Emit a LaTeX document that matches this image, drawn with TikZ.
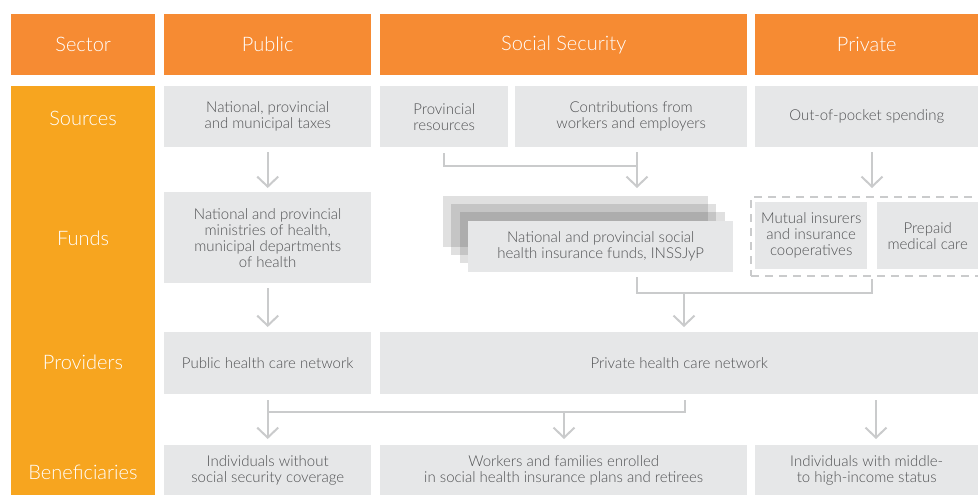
\documentclass[tikz,border=0pt]{standalone}
\usepackage{fontspec}
\IfFontExistsTF{Lato Light}{\setmainfont{Lato Light}}{\setmainfont{Lato}}
\usetikzlibrary{arrows.meta,positioning,calc}
\definecolor{headorange}{HTML}{F68B33}
\definecolor{sideamber}{HTML}{F7A51F}
\definecolor{cellgray}{HTML}{E6E7E8}
\definecolor{textgray}{HTML}{505153}
\definecolor{linegray}{HTML}{CACBCC}

\begin{document}
\begin{tikzpicture}[
    x=1pt,y=-1pt,
    head/.style={fill=headorange,text=white,font=\fontsize{20}{22}\selectfont,anchor=north west,inner sep=0pt,minimum height=61pt},
    side/.style={text=white,font=\fontsize{20}{22}\selectfont},
    cell/.style={fill=cellgray,text=textgray,font=\fontsize{15}{16}\selectfont,align=center,anchor=north west,inner sep=0pt},
    layer/.style={fill=black,fill opacity=0.12,anchor=north west,inner sep=0pt,minimum width=265pt,minimum height=51pt},
    link/.style={draw=linegray,line width=2pt},
    arrow/.style={link,-{Straight Barb[length=10pt,width=21pt]}}
]
\useasboundingbox (0,0) rectangle (978,495);

% Header row
\node[head,minimum width=144pt] (sector) at (11,14) {Sector};
\node[head,minimum width=207pt] (public) at (164,14) {Public};
\node[head,minimum width=367pt] (social) at (380,14) {Social Security};
\node[head,minimum width=223pt] (private) at (755,14) {Private};

% Left column
\node[fill=sideamber,anchor=north west,inner sep=0pt,minimum width=144pt,minimum height=409pt] (sidecol) at (11,86) {};
\node[side] (sources) at (83,118) {Sources};
\node[side] (funds) at (83,238) {Funds};
\node[side] (providers) at (83,362) {Providers};
\node[side] (beneficiaries) at (83,472) {Beneficiaries};

% Sources
\node[cell,minimum width=207pt,minimum height=61pt] (pubsrc) at (164,86) {National, provincial\\and municipal taxes};
\node[cell,minimum width=128pt,minimum height=61pt] (provres) at (380,86) {Provincial\\resources};
\node[cell,minimum width=232pt,minimum height=61pt] (contrib) at (515,86) {Contributions from\\workers and employers};
\node[cell,minimum width=223pt,minimum height=61pt] (privsrc) at (755,86) {Out-of-pocket spending};

% Funds
\node[cell,minimum width=207pt,minimum height=91pt] (pubfund) at (164,192) {National and provincial\\ministries of health,\\municipal departments\\of health};
\node[layer] (ssback) at (443,196) {};
\node[layer] (ssmid) at (451,204) {};
\node[layer] (ssnear) at (460,212) {};
\node[cell,minimum width=265pt,minimum height=51pt] (ssfund) at (468,221) {National and provincial social\\health insurance funds, INSSJyP};
\node[draw=linegray,line width=2pt,dash pattern=on 8pt off 6pt,anchor=north west,inner sep=0pt,minimum width=232pt,minimum height=79pt] (privfund) at (750,196) {};
\node[cell,minimum width=112pt,minimum height=67pt] (mutual) at (755,202) {Mutual insurers\\and insurance\\cooperatives};
\node[cell,minimum width=101pt,minimum height=67pt] (prepaid) at (877,202) {Prepaid\\medical care};

% Providers
\node[cell,minimum width=207pt,minimum height=62pt] (pubprov) at (164,332) {Public health care network};
\node[cell,minimum width=598pt,minimum height=62pt] (privprov) at (380,332) {Private health care network};

% Beneficiaries
\node[cell,minimum width=207pt,minimum height=50pt] (pubben) at (164,445) {Individuals without\\social security coverage};
\node[cell,minimum width=367pt,minimum height=50pt] (ssben) at (380,445) {Workers and families enrolled\\in social health insurance plans and retirees};
\node[cell,minimum width=223pt,minimum height=50pt] (privben) at (755,445) {Individuals with middle-\\to high-income status};

% Sources to funds
\coordinate (ssjoin) at (637,166);
\coordinate (privx) at (872,0);
\draw[arrow,shorten <=5pt,shorten >=4pt] (pubsrc) -- (pubfund);
\draw[link] (provres.south) ++(0,6) |- (ssjoin);
\draw[arrow,shorten <=5pt,shorten >=8pt] (contrib.south -| ssjoin) -- (ssjoin |- ssback.north);
\draw[arrow,shorten <=5pt,shorten >=8pt] (privsrc.south -| privx) -- (privx |- privfund.north);

% Funds to providers
\coordinate (fundjoin) at (684,293);
\draw[arrow,shorten <=5pt,shorten >=5pt] (pubfund) -- (pubprov);
\draw[link] (ssfund.south -| ssjoin) ++(0,5) |- (fundjoin);
\draw[link,shorten >=2pt] (fundjoin) -| (privfund.south -| privx);
\draw[arrow,shorten >=5pt] (fundjoin) -- (fundjoin |- privprov.north);

% Providers to beneficiaries
\coordinate (benjoin) at (564,412);
\coordinate (provx) at (685,0);
\coordinate (privbx) at (876,0);
\draw[arrow,shorten <=6pt,shorten >=6pt] (pubprov) -- (pubben);
\draw[link] (privprov.south -| provx) ++(0,6) |- (benjoin -| pubprov.south);
\draw[arrow,shorten >=6pt] (benjoin) -- (benjoin |- ssben.north);
\draw[arrow,shorten <=6pt,shorten >=6pt] (privprov.south -| privbx) -- (privbx |- privben.north);

\end{tikzpicture}
\end{document}
